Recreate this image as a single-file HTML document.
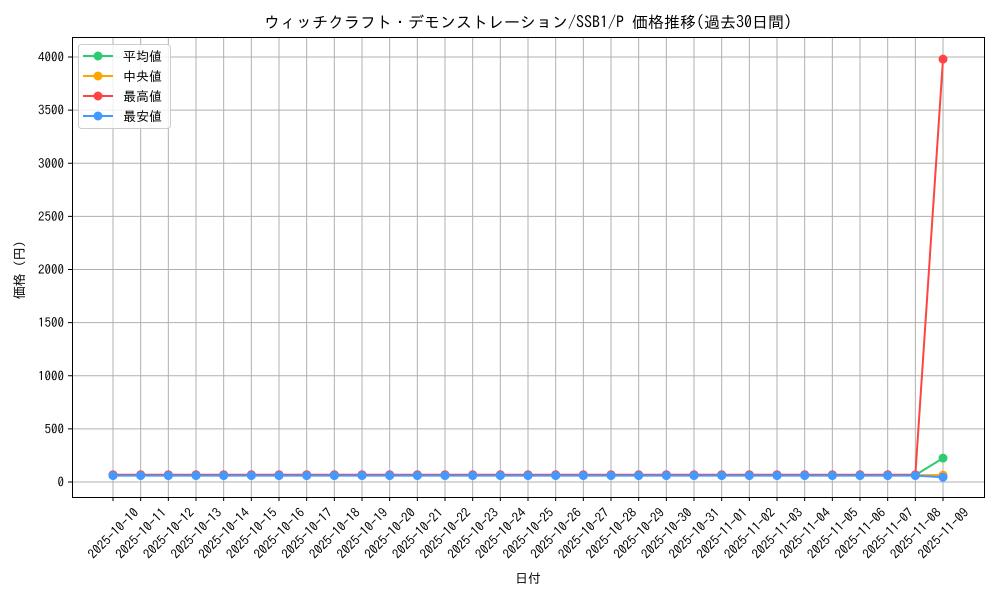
<!DOCTYPE html>
<html><head><meta charset="utf-8"><style>
body{margin:0;background:#fff;}
text{font-family:"IPAGothic","Noto Sans CJK JP",sans-serif;fill:#000;}
</style></head><body>
<svg width="1000" height="600" xmlns="http://www.w3.org/2000/svg">
<rect width="1000" height="600" fill="#fff"/>
<g id="grid" stroke="#b0b0b0" stroke-width="1"></g>
<g id="ticks"></g>
<g id="series"></g>
<rect x="72.5" y="37.5" width="912" height="460" fill="none" stroke="#000" stroke-width="1"/>
<text x="528" y="28" font-size="16" text-anchor="middle">ウィッチクラフト・デモンストレーション/SSB1/P 価格推移(過去30日間)</text>
<text x="528" y="583" font-size="13" text-anchor="middle">日付</text>
<text x="24" y="270" font-size="13" text-anchor="middle" transform="rotate(-90 24 270)">価格 (円)</text>
<g>
<rect x="78.5" y="44.5" width="92" height="84" rx="3" fill="#fff" fill-opacity="0.8" stroke="#ccc"/>
<line x1="83" y1="56" x2="113" y2="56" stroke="#2ecc71" stroke-width="2"/><circle cx="98" cy="56" r="4.5" fill="#2ecc71"/><text x="123" y="61" font-size="13">平均値</text>
<line x1="83" y1="76" x2="113" y2="76" stroke="#ffa500" stroke-width="2"/><circle cx="98" cy="76" r="4.5" fill="#ffa500"/><text x="123" y="81" font-size="13">中央値</text>
<line x1="83" y1="96" x2="113" y2="96" stroke="#ff4444" stroke-width="2"/><circle cx="98" cy="96" r="4.5" fill="#ff4444"/><text x="123" y="101" font-size="13">最高値</text>
<line x1="83" y1="116" x2="113" y2="116" stroke="#4499ff" stroke-width="2"/><circle cx="98" cy="116" r="4.5" fill="#4499ff"/><text x="123" y="121" font-size="13">最安値</text>
</g>
<script>
var ns="http://www.w3.org/2000/svg";
function el(p,t,a,txt){var e=document.createElementNS(ns,t);for(var k in a)e.setAttribute(k,a[k]);if(txt)e.textContent=txt;document.getElementById(p).appendChild(e);return e;}
function X(i){return 113+i*27.667;}
function Y(v){return 482-v*0.10625;}
for(var v=0;v<=4000;v+=500){var y=Y(v);el("grid","line",{x1:73,x2:984,y1:y,y2:y});
el("ticks","line",{x1:68,x2:72,y1:y,y2:y,stroke:"#000"});
el("ticks","text",{x:64,y:y+4.5,"font-size":13,"text-anchor":"end"},String(v));}
for(var i=0;i<31;i++){var x=X(i);el("grid","line",{x1:x,x2:x,y1:38,y2:497});
el("ticks","line",{x1:x,x2:x,y1:497,y2:501,stroke:"#000"});
var d=new Date(Date.UTC(2025,9,10+i));var s=d.toISOString().slice(0,10);
el("ticks","text",{x:x,y:538,"font-size":13,"text-anchor":"middle",transform:"rotate(-45 "+x+" 533)"},s);}
function series(vals,c){var p="";for(var i=0;i<31;i++)p+=(i?"L":"M")+X(i)+" "+Y(vals(i));
el("series","path",{d:p,fill:"none",stroke:c,"stroke-width":2});
for(var i=0;i<31;i++)el("series","circle",{cx:X(i),cy:Y(vals(i)),r:4.5,fill:c});}
series(function(i){return i==30?225:65},"#2ecc71");
series(function(i){return 65},"#ffa500");
series(function(i){return i==30?3980:68},"#ff4444");
series(function(i){return i==30?45:60},"#4499ff");
</script>
</svg>
</body></html>
